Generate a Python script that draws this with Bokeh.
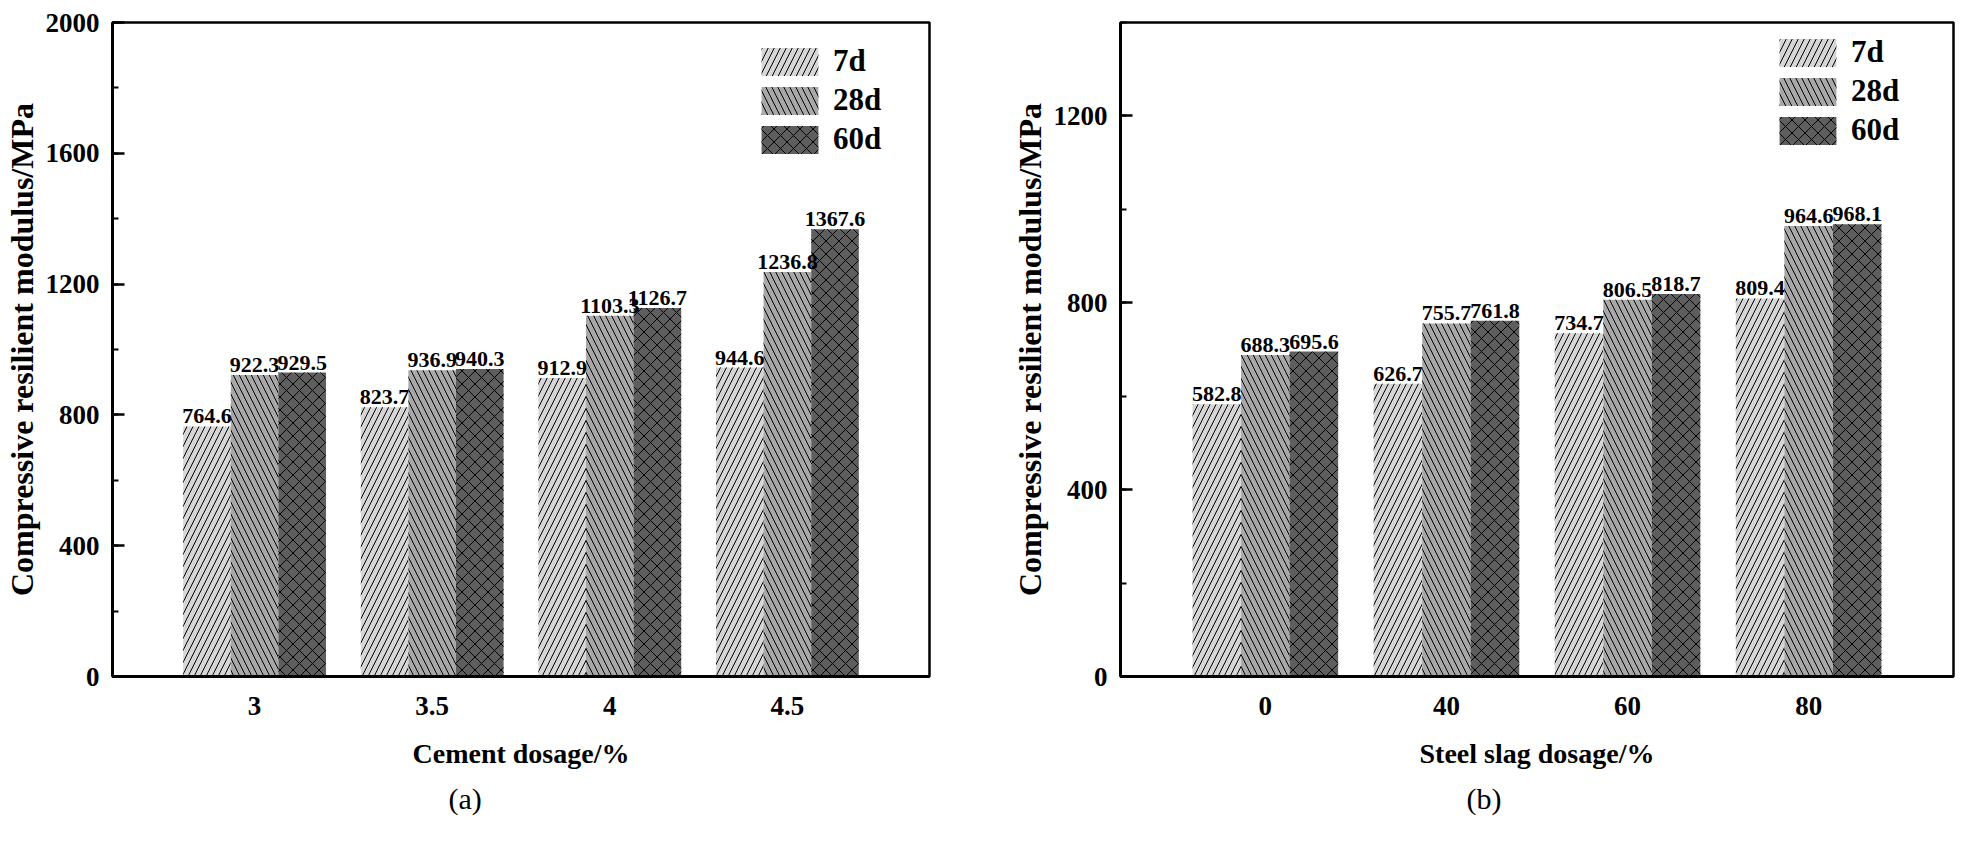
from bokeh.plotting import figure
from bokeh.models import (Range1d, FixedTicker, SingleIntervalTicker, Legend,
                          LegendItem, Title, ColumnDataSource)
from bokeh.layouts import row
from bokeh.embed import file_html
from bokeh.resources import INLINE
from bokeh.core.properties import value

# ---------------- data ----------------
cement_labels = ["3", "3.5", "4", "4.5"]
cement_7d = [764.6, 823.7, 912.9, 944.6]
cement_28d = [922.3, 936.9, 1103.3, 1236.8]
cement_60d = [929.5, 940.3, 1126.7, 1367.6]

slag_labels = ["0", "40", "60", "80"]
slag_7d = [582.8, 626.7, 734.7, 809.4]
slag_28d = [688.3, 755.7, 806.5, 964.6]
slag_60d = [695.6, 761.8, 818.7, 968.1]

series_names = ["7d", "28d", "60d"]
y_title = "Compressive resilient modulus/MPa"

# ---------------- styles ----------------
FONT = "Liberation Serif"
fills = ["#d6d6d6", "#a8a8a8", "#5e5e5e"]
hatches = ["right_diagonal_line", "left_diagonal_line", "diagonal_cross"]
hatch_scales = [12, 12, 13]
offsets = [-0.268, 0.0, 0.268]
bar_w = 0.268


def make_panel(labels, series, ymax, width, height, borders, legend_loc,
               xtitle, caption, caption_offset):
    bl, br, bt, bb = borders
    p = figure(width=width, height=height, x_range=Range1d(0.2, 4.8),
               y_range=Range1d(0, ymax), toolbar_location=None,
               output_backend="svg", min_border_left=bl, min_border_right=br,
               min_border_top=bt, min_border_bottom=bb)
    p.title.visible = False
    p.grid.visible = False
    p.outline_line_color = "black"
    p.outline_line_width = 2.5

    renderers = []
    sources = []
    for i, vals in enumerate(series):
        xs = [k + 1 + offsets[i] for k in range(len(vals))]
        src = ColumnDataSource(dict(x=xs, top=vals,
                                    lab=[f"{v:.1f}" for v in vals]))
        r = p.vbar(x="x", top="top", width=bar_w, source=src,
                   fill_color=fills[i], line_color=None,
                   hatch_pattern=hatches[i], hatch_color="black",
                   hatch_weight=1, hatch_scale=hatch_scales[i])
        renderers.append(r)
        sources.append(src)
    for src in sources:
        p.text(x="x", y="top", text="lab", source=src, text_align="center",
               text_baseline="bottom", y_offset=-3, text_color="black",
               text_font=value(FONT), text_font_style="bold",
               text_font_size=value("22px"))

    legend = Legend(items=[LegendItem(label=n, renderers=[r])
                           for n, r in zip(series_names, renderers)],
                    location=legend_loc, glyph_width=71, glyph_height=35,
                    spacing=3, label_standoff=8, padding=0, margin=0,
                    border_line_color=None, background_fill_alpha=0,
                    label_text_font=FONT, label_text_font_style="bold",
                    label_text_font_size="31px", label_text_color="black")
    p.add_layout(legend)

    xa = p.xaxis[0]
    xa.ticker = FixedTicker(ticks=[1, 2, 3, 4])
    xa.major_label_overrides = {k + 1: s for k, s in enumerate(labels)}
    xa.major_tick_line_color = None
    xa.minor_tick_line_color = None
    xa.axis_line_width = 3
    xa.axis_line_color = "black"
    xa.major_label_standoff = 14
    xa.major_label_text_font = FONT
    xa.major_label_text_font_style = "bold"
    xa.major_label_text_font_size = "27px"
    xa.major_label_text_color = "black"
    xa.axis_label = xtitle
    xa.axis_label_text_font = FONT
    xa.axis_label_text_font_style = "bold"
    xa.axis_label_text_font_size = "28px"
    xa.axis_label_text_color = "black"
    xa.axis_label_standoff = 20

    ya = p.yaxis[0]
    ya.ticker = SingleIntervalTicker(interval=400, num_minor_ticks=2)
    ya.major_tick_in = 12
    ya.major_tick_out = 0
    ya.minor_tick_in = 6
    ya.minor_tick_out = 0
    ya.major_tick_line_width = 2.5
    ya.minor_tick_line_width = 2
    ya.major_tick_line_color = "black"
    ya.minor_tick_line_color = "black"
    ya.axis_line_width = 3
    ya.axis_line_color = "black"
    ya.major_label_standoff = 13
    ya.major_label_text_font = FONT
    ya.major_label_text_font_style = "bold"
    ya.major_label_text_font_size = "27px"
    ya.major_label_text_color = "black"
    ya.axis_label = y_title
    ya.axis_label_text_font = FONT
    ya.axis_label_text_font_style = "bold"
    ya.axis_label_text_font_size = "32px"
    ya.axis_label_text_color = "black"
    ya.axis_label_standoff = 3

    cap = Title(text=caption, align="left", offset=caption_offset,
                text_font=FONT, text_font_style="normal",
                text_font_size="30px", text_color="black", standoff=16)
    p.add_layout(cap, "below")
    return p


pa = make_panel(cement_labels, [cement_7d, cement_28d, cement_60d], 2000,
                1000, 829, (107, 71, 22, 149), (642, 519),
                "Cement dosage/%", "(a)", 336)
pb = make_panel(slag_labels, [slag_7d, slag_28d, slag_60d], 1400,
                958, 829, (120, 5, 6, 153), (652, 528),
                "Steel slag dosage/%", "(b)", 346)

layout = row(pa, pb)
open("out.html", "w").write(file_html(layout, INLINE))
